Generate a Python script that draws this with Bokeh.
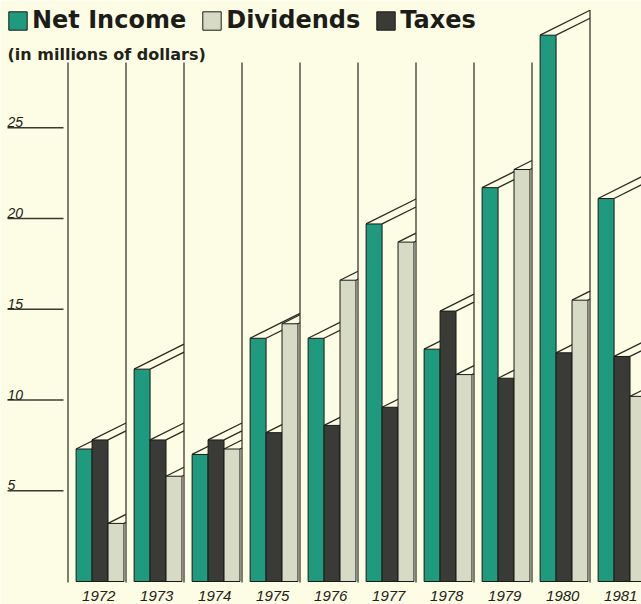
from bokeh.plotting import figure
from bokeh.models import Range1d, ColumnDataSource, Legend, LegendItem, Label
from bokeh.embed import file_html
from bokeh.resources import INLINE
from bokeh.core.properties import value

# ---- data (millions of dollars) ----
years = ["1972", "1973", "1974", "1975", "1976", "1977", "1978", "1979", "1980", "1981"]
net_income = [7.3, 11.7, 7.0, 13.4, 13.4, 19.7, 12.8, 21.7, 30.1, 21.1]
taxes = [7.8, 7.8, 7.8, 8.2, 8.6, 9.6, 14.9, 11.2, 12.6, 12.4]
dividends = [3.2, 5.8, 7.3, 14.2, 16.6, 18.7, 11.4, 22.7, 15.5, 10.2]
y_ticks = [5, 10, 15, 20, 25]
series_names = ["Net Income", "Dividends", "Taxes"]

# ---- styling / geometry ----
BG = "#fdfde6"
INK = "#2a2a22"
C_NET = "#1f9a7e"
C_TAX = "#3a3a36"
C_DIV = "#d7dbc6"

W, H = 641, 604
PX_X = 58.0      # px per year group
X0 = 67.5        # screen x of first divider
PX_Y = 18.15     # px per million
Y0 = 581.0       # screen y of zero
x_start = (0 - X0) / PX_X
x_end = (W - X0) / PX_X
y_start = (Y0 - H) / PX_Y
y_end = Y0 / PX_Y

def sx(px):
    return (px - X0) / PX_X

def sy(py):
    return (Y0 - py) / PX_Y

p = figure(width=W, height=H, x_range=Range1d(x_start, x_end), y_range=Range1d(y_start, y_end),
           x_axis_type=None, y_axis_type=None, toolbar_location=None, output_backend="svg",
           min_border=0, background_fill_color=BG, border_fill_color=BG, outline_line_color=None)
p.grid.visible = False

OFF = 0.14
BW = 0.275
K = 0.5 * PX_X / PX_Y   # depth slope in data units
n = len(years)

# order of bars within a group (left to right)
bar_series = [("Net Income", net_income, C_NET), ("Taxes", taxes, C_TAX), ("Dividends", dividends, C_DIV)]

# y tick rules and labels
p.segment(x0=[sx(7)] * len(y_ticks), y0=y_ticks, x1=[sx(63)] * len(y_ticks), y1=y_ticks,
          line_color="#3a3a30", line_width=1.5)
p.text(x=[sx(7)] * len(y_ticks), y=[t + 0.3 for t in y_ticks], text=[str(t) for t in y_ticks],
       text_font=value("Liberation Sans"), text_font_style="italic", text_font_size="14px",
       text_color="#222218", text_align="left", text_baseline="alphabetic")

default_top = sy(62)
div_tops = [default_top] * (n + 1)
renderers = {}
for j, (name, vals, color) in enumerate(bar_series):
    lefts = [i + OFF + j * BW for i in range(n)]
    rights = [l + BW for l in lefts]
    ends = [i + 1 for i in range(n)]
    # hidden-surface faces (top + right side receding to the back wall)
    fx, fy = [], []
    for l, r, e, v in zip(lefts, rights, ends, vals):
        fx.append([l, e, e, r, r])
        fy.append([v, v + K * (e - l), 0, 0, v])
        div_tops[e] = max(div_tops[e], v + K * (e - l))
    p.patches(xs=fx, ys=fy, fill_color=BG, line_color=None)
    xs0 = lefts + rights
    ys0 = list(vals) + list(vals)
    xs1 = ends + ends
    ys1 = [v + K * (e - x) for v, e, x in zip(ys0, xs1, xs0)]
    p.segment(x0=xs0, y0=ys0, x1=xs1, y1=ys1, line_color=INK, line_width=1.3)
    src = ColumnDataSource(dict(x=[l + BW / 2 for l in lefts], top=vals))
    r = p.vbar(x="x", top="top", bottom=0, width=BW, source=src,
               fill_color=color, line_color="#1a1a16", line_width=1)
    renderers[name] = r

# back-wall dividers between year groups
p.segment(x0=list(range(n + 1)), y0=[sy(582)] * (n + 1), x1=list(range(n + 1)), y1=div_tops,
          line_color=INK, line_width=1.2)

# year labels
p.text(x=[i + 0.53 for i in range(n)], y=[sy(595)] * n, text=years,
       text_font=value("Liberation Sans"), text_font_style="italic", text_font_size="15px",
       text_color="#222218", text_align="center", text_baseline="alphabetic")

# subtitle
p.add_layout(Label(x=sx(7), y=sy(54), text="(in millions of dollars)",
                   text_font="DejaVu Sans", text_font_style="bold", text_font_size="16px",
                   text_color="#222218", text_baseline="alphabetic"))

legend = Legend(items=[LegendItem(label=nm, renderers=[renderers[nm]]) for nm in series_names],
                orientation="horizontal", location="top_left", margin=0, padding=6,
                spacing=14, label_standoff=3, glyph_width=23, glyph_height=23,
                label_text_font="DejaVu Sans", label_text_font_style="bold",
                label_text_font_size="24px", label_text_color="#1c1c18",
                border_line_alpha=0, background_fill_alpha=0)
p.add_layout(legend)

open("out.html", "w").write(file_html(p, INLINE))
